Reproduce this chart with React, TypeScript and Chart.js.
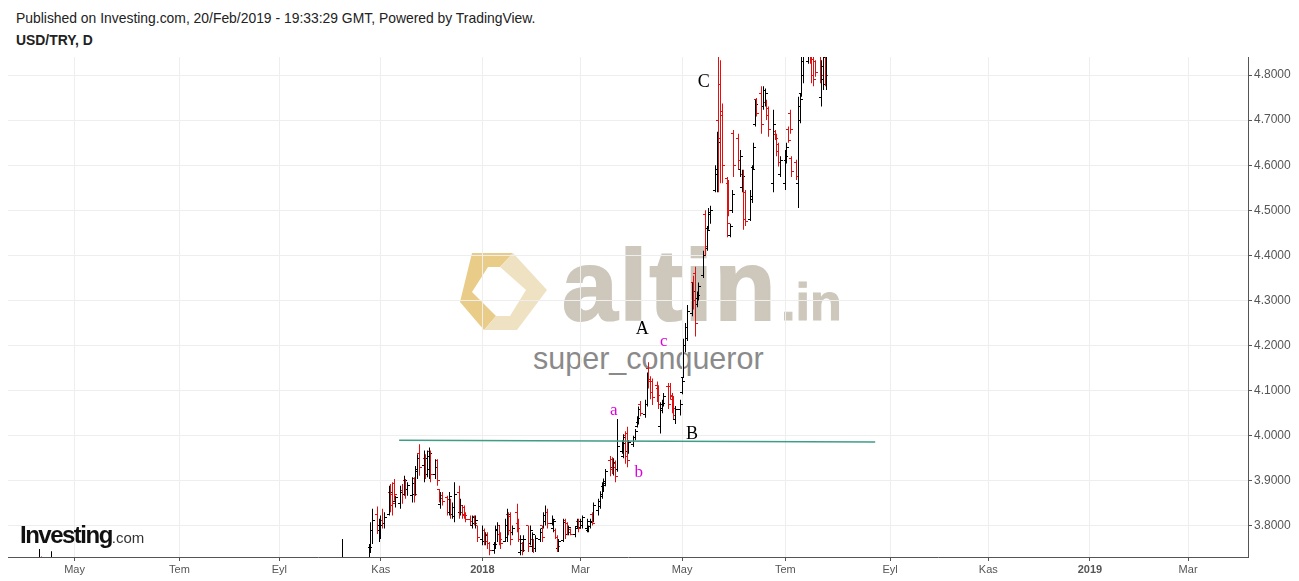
import React, { useEffect, useRef } from 'react';
import { Chart, registerables } from 'chart.js';

Chart.register(...registerables);

type Bar = [number, number, number, number]; // open, high, low, close

// ---- Price data (USD/TRY daily) ----
const segAprStart = '2017-04-03';
const segApr: Bar[] = [
  [3.645, 3.680, 3.640, 3.670], [3.670, 3.690, 3.660, 3.680], [3.680, 3.700, 3.665, 3.690],
  [3.690, 3.715, 3.680, 3.710], [3.710, 3.728, 3.695, 3.722],
  [3.722, 3.749, 3.712, 3.730], [3.730, 3.732, 3.705, 3.715], [3.715, 3.728, 3.700, 3.720],
  [3.720, 3.729, 3.700, 3.712], [3.712, 3.725, 3.705, 3.718],
  [3.640, 3.744, 3.620, 3.660], [3.660, 3.690, 3.640, 3.670], [3.670, 3.680, 3.640, 3.650],
  [3.650, 3.665, 3.620, 3.630], [3.630, 3.645, 3.610, 3.625],
];

const segMainStart = '2017-10-02';
const segMain: Bar[] = [
  [3.545, 3.580, 3.540, 3.570], [3.570, 3.590, 3.560, 3.585], [3.585, 3.610, 3.575, 3.600],
  [3.600, 3.640, 3.595, 3.630], [3.630, 3.660, 3.620, 3.650], [3.650, 3.771, 3.640, 3.700],
  [3.700, 3.725, 3.660, 3.680], [3.680, 3.690, 3.630, 3.640], [3.640, 3.650, 3.600, 3.610],
  [3.610, 3.640, 3.600, 3.630], [3.630, 3.650, 3.620, 3.640], [3.640, 3.670, 3.630, 3.660],
  [3.660, 3.690, 3.650, 3.680], [3.680, 3.710, 3.670, 3.700], [3.700, 3.720, 3.690, 3.705],
  [3.705, 3.728, 3.700, 3.720], [3.720, 3.730, 3.705, 3.722],
  // Oct 25 2017 ->
  [3.722, 3.760, 3.718, 3.752], [3.752, 3.808, 3.740, 3.790], [3.790, 3.838, 3.760, 3.812],
  [3.825, 3.843, 3.782, 3.800], [3.790, 3.816, 3.764, 3.800], [3.800, 3.823, 3.771, 3.812],
  [3.812, 3.838, 3.794, 3.806], [3.806, 3.830, 3.794, 3.818], [3.825, 3.889, 3.823, 3.875],
  [3.875, 3.893, 3.830, 3.845], [3.870, 3.897, 3.823, 3.850], [3.895, 3.904, 3.856, 3.870],
  [3.855, 3.867, 3.841, 3.862], [3.850, 3.889, 3.838, 3.875], [3.878, 3.893, 3.849, 3.870],
  [3.870, 3.911, 3.867, 3.900], [3.900, 3.904, 3.860, 3.880], [3.880, 3.897, 3.867, 3.890],
  [3.868, 3.908, 3.852, 3.895], [3.905, 3.908, 3.852, 3.870], [3.870, 3.933, 3.867, 3.925],
  [3.920, 3.959, 3.904, 3.950], [3.960, 3.981, 3.911, 3.930], [3.935, 3.967, 3.897, 3.950],
  [3.950, 3.959, 3.904, 3.915], [3.915, 3.967, 3.908, 3.955], [3.925, 3.974, 3.904, 3.960],
  [3.965, 3.967, 3.897, 3.915], [3.915, 3.948, 3.904, 3.930], [3.945, 3.948, 3.889, 3.900],
  [3.880, 3.882, 3.852, 3.860], [3.848, 3.875, 3.838, 3.868], [3.868, 3.875, 3.845, 3.855],
  [3.862, 3.867, 3.823, 3.830], [3.830, 3.875, 3.823, 3.865], [3.858, 3.860, 3.816, 3.825],
  [3.825, 3.852, 3.816, 3.840], [3.820, 3.897, 3.808, 3.870], [3.875, 3.889, 3.816, 3.830],
  [3.830, 3.860, 3.823, 3.845], [3.845, 3.845, 3.816, 3.825], [3.840, 3.845, 3.816, 3.822],
  [3.822, 3.830, 3.808, 3.815], [3.815, 3.823, 3.801, 3.810], [3.800, 3.823, 3.794, 3.818],
  [3.820, 3.823, 3.801, 3.805], [3.805, 3.823, 3.794, 3.812], [3.800, 3.801, 3.764, 3.775],
  [3.770, 3.801, 3.757, 3.790], [3.790, 3.794, 3.757, 3.765], [3.765, 3.786, 3.757, 3.778],
  [3.782, 3.786, 3.749, 3.760], [3.762, 3.764, 3.735, 3.745], [3.745, 3.764, 3.738, 3.758],
  [3.758, 3.801, 3.749, 3.792], [3.790, 3.808, 3.764, 3.800], [3.800, 3.801, 3.757, 3.770],
  [3.780, 3.786, 3.749, 3.760], [3.765, 3.816, 3.764, 3.800], [3.775, 3.838, 3.764, 3.825],
  [3.825, 3.830, 3.779, 3.790], [3.820, 3.830, 3.757, 3.770], [3.785, 3.801, 3.779, 3.795],
  [3.830, 3.849, 3.786, 3.795], [3.805, 3.816, 3.764, 3.770], [3.740, 3.779, 3.735, 3.770],
  [3.760, 3.764, 3.735, 3.745], [3.745, 3.779, 3.742, 3.770], [3.800, 3.801, 3.742, 3.755],
  [3.760, 3.801, 3.757, 3.790], [3.755, 3.786, 3.742, 3.780], [3.770, 3.771, 3.740, 3.750],
  [3.750, 3.779, 3.742, 3.772], [3.770, 3.794, 3.764, 3.785], [3.800, 3.801, 3.764, 3.775],
  [3.795, 3.830, 3.794, 3.822], [3.810, 3.845, 3.801, 3.830], [3.830, 3.838, 3.794, 3.805],
  [3.805, 3.823, 3.801, 3.815], [3.795, 3.816, 3.786, 3.810], [3.790, 3.794, 3.771, 3.775],
  [3.775, 3.779, 3.742, 3.755], [3.750, 3.771, 3.742, 3.765], [3.768, 3.816, 3.764, 3.808],
  [3.812, 3.816, 3.771, 3.782], [3.805, 3.808, 3.779, 3.785], [3.782, 3.801, 3.779, 3.796],
  [3.792, 3.794, 3.779, 3.782], [3.782, 3.800, 3.775, 3.795], [3.798, 3.816, 3.794, 3.810],
  [3.810, 3.816, 3.786, 3.795], [3.796, 3.816, 3.794, 3.810], [3.800, 3.823, 3.794, 3.818],
  [3.795, 3.816, 3.786, 3.810], [3.790, 3.801, 3.786, 3.798], [3.798, 3.816, 3.794, 3.808],
  [3.825, 3.830, 3.801, 3.806], [3.810, 3.852, 3.808, 3.845], [3.835, 3.860, 3.823, 3.855],
  // Mar 13 2018 ->
  [3.842, 3.877, 3.838, 3.870], [3.865, 3.897, 3.860, 3.890], [3.888, 3.905, 3.875, 3.898],
  [3.895, 3.926, 3.888, 3.920], [3.945, 3.955, 3.910, 3.925], [3.948, 3.952, 3.915, 3.930],
  [3.930, 3.950, 3.912, 3.940], [3.938, 3.945, 3.897, 3.910], [3.925, 4.037, 3.920, 3.975],
  [3.965, 3.990, 3.960, 3.982], [3.955, 4.003, 3.950, 3.995], [4.000, 4.010, 3.938, 3.955],
  [4.005, 4.020, 3.930, 3.945], [3.965, 3.990, 3.960, 3.985], [3.980, 4.000, 3.975, 3.995],
  [3.995, 4.015, 3.990, 4.010], [4.020, 4.043, 4.018, 4.038], [4.030, 4.065, 4.025, 4.058],
  [4.070, 4.077, 4.043, 4.050], [4.048, 4.080, 4.040, 4.070], [4.070, 4.140, 4.065, 4.125],
  [4.150, 4.163, 4.105, 4.120], [4.125, 4.132, 4.081, 4.095], [4.120, 4.127, 4.068, 4.085],
  [4.112, 4.120, 4.075, 4.090], [4.105, 4.112, 4.059, 4.070], [4.020, 4.074, 4.005, 4.060],
  [4.055, 4.080, 4.050, 4.072], [4.070, 4.095, 4.065, 4.088], [4.110, 4.117, 4.059, 4.070],
  [4.110, 4.117, 4.080, 4.088], [4.090, 4.095, 4.050, 4.060], [4.080, 4.088, 4.037, 4.045],
  [4.035, 4.066, 4.026, 4.058], [4.058, 4.080, 4.045, 4.070], [4.095, 4.130, 4.092, 4.120],
  [4.130, 4.215, 4.128, 4.200],
  // May 3 2018 ->
  [4.200, 4.250, 4.185, 4.240], [4.215, 4.290, 4.210, 4.275], [4.270, 4.340, 4.265, 4.320],
  [4.340, 4.355, 4.280, 4.300], [4.360, 4.375, 4.220, 4.250], [4.290, 4.320, 4.285, 4.312],
  [4.305, 4.340, 4.300, 4.330], [4.355, 4.410, 4.350, 4.400], [4.490, 4.500, 4.400, 4.420],
  [4.415, 4.465, 4.410, 4.455], [4.460, 4.505, 4.457, 4.495], [4.490, 4.510, 4.470, 4.500],
  [4.545, 4.600, 4.540, 4.590], [4.580, 4.674, 4.540, 4.650], [4.700, 4.924, 4.540, 4.660],
  [4.780, 4.833, 4.560, 4.710], [4.720, 4.737, 4.560, 4.600], [4.570, 4.574, 4.440, 4.470],
  [4.560, 4.567, 4.487, 4.500], [4.445, 4.470, 4.440, 4.465], [4.500, 4.545, 4.494, 4.535],
  [4.670, 4.678, 4.574, 4.600], [4.660, 4.670, 4.590, 4.610], [4.590, 4.634, 4.574, 4.620],
  [4.550, 4.590, 4.540, 4.575], [4.580, 4.590, 4.457, 4.480], [4.540, 4.545, 4.465, 4.475],
  [4.480, 4.545, 4.476, 4.530], [4.525, 4.600, 4.516, 4.590], [4.595, 4.650, 4.590, 4.640],
  [4.690, 4.745, 4.686, 4.735], [4.745, 4.749, 4.708, 4.715], [4.760, 4.775, 4.670, 4.690],
  [4.730, 4.775, 4.723, 4.765], [4.740, 4.770, 4.730, 4.760], [4.740, 4.745, 4.700, 4.710],
  [4.725, 4.730, 4.663, 4.680], [4.560, 4.723, 4.540, 4.690], [4.675, 4.678, 4.656, 4.660],
  [4.668, 4.670, 4.620, 4.630], [4.645, 4.650, 4.597, 4.605], [4.580, 4.620, 4.574, 4.610],
  [4.560, 4.634, 4.545, 4.620], [4.610, 4.650, 4.604, 4.640], [4.680, 4.686, 4.650, 4.655],
  [4.715, 4.723, 4.670, 4.680], [4.615, 4.620, 4.574, 4.585], [4.605, 4.612, 4.567, 4.575],
  [4.560, 4.752, 4.505, 4.730], [4.700, 4.760, 4.693, 4.745], [4.760, 4.850, 4.752, 4.830],
  [4.800, 4.870, 4.782, 4.850], [4.830, 4.880, 4.825, 4.860], [4.870, 4.890, 4.825, 4.835],
  [4.860, 4.880, 4.782, 4.800], [4.850, 4.870, 4.775, 4.790], [4.830, 4.833, 4.796, 4.805],
  [4.850, 4.870, 4.782, 4.800], [4.750, 4.833, 4.730, 4.820], [4.790, 4.860, 4.767, 4.840],
  [4.860, 4.880, 4.775, 4.800], [4.780, 4.880, 4.767, 4.850],
];

// ---- Axes ----
const xTickDates = [
  '2017-05-01', '2017-07-03', '2017-09-01', '2017-11-01', '2018-01-01', '2018-03-01',
  '2018-05-01', '2018-07-02', '2018-09-03', '2018-11-01', '2019-01-01', '2019-03-01',
];
const xTickLabels = ['May', 'Tem', 'Eyl', 'Kas', '2018', 'Mar', 'May', 'Tem', 'Eyl', 'Kas', '2019', 'Mar'];
const yearLabels = ['2018', '2019'];
const yTickValues = [3.8, 3.9, 4.0, 4.1, 4.2, 4.3, 4.4, 4.5, 4.6, 4.7, 4.8];
const xRange = ['2017-03-22', '2019-04-06'];
const yRange = [3.731, 4.84];

// ---- Drawings on the chart ----
const trendLine = [
  { date: '2017-11-12', price: 3.99 },
  { date: '2018-08-25', price: 3.986 },
];
const waveLabels = [
  { text: 'A', date: '2018-04-07', price: 4.237 },
  { text: 'B', date: '2018-05-07', price: 4.004 },
  { text: 'C', date: '2018-05-14', price: 4.784 },
  { text: 'a', date: '2018-03-21', price: 4.055 },
  { text: 'b', date: '2018-04-05', price: 3.918 },
  { text: 'c', date: '2018-04-20', price: 4.21 },
];

const EPOCH = Date.UTC(2018, 0, 1);
const DAY = 86400000;
function dayOf(s: string): number {
  const [y, m, d] = s.split('-').map(Number);
  return (Date.UTC(y, m - 1, d) - EPOCH) / DAY;
}
function weekdays(start: string, n: number): number[] {
  const out: number[] = [];
  let t = dayOf(start);
  while (out.length < n) {
    const wd = new Date(EPOCH + t * DAY).getUTCDay();
    if (wd !== 0 && wd !== 6) out.push(t);
    t++;
  }
  return out;
}

const UP = '#000000';
const DOWN = '#dd1111';
const SANS = '"Liberation Sans", Arial, sans-serif';

function tickImage(color: string, side: 'open' | 'close'): HTMLCanvasElement {
  const c = document.createElement('canvas');
  c.width = 5;
  c.height = 1;
  const g = c.getContext('2d')!;
  g.fillStyle = color;
  g.fillRect(side === 'open' ? 0 : 3, 0, 2, 1);
  return c;
}

export default function App() {
  const ref = useRef<HTMLCanvasElement>(null);

  useEffect(() => {
    if (!ref.current) return;
    const bars: { x: number; o: number; h: number; l: number; c: number }[] = [];
    const addSeg = (start: string, seg: Bar[]) => {
      const days = weekdays(start, seg.length);
      seg.forEach((b, i) => bars.push({ x: days[i], o: b[0], h: b[1], l: b[2], c: b[3] }));
    };
    addSeg(segAprStart, segApr);
    addSeg(segMainStart, segMain);

    const isUp = bars.map((b) => b.c >= b.o);
    const openUp = tickImage(UP, 'open');
    const openDown = tickImage(DOWN, 'open');
    const closeUp = tickImage(UP, 'close');
    const closeDown = tickImage(DOWN, 'close');

    // align the 1px OHLC strokes to whole device pixels so they stay crisp
    const snapPlugin = {
      id: 'snapOhlc',
      beforeDatasetsDraw(chart: any) {
        chart.getSortedVisibleDatasetMetas().forEach((meta: any) => {
          if (meta.type === 'bar') {
            meta.data.forEach((el: any) => {
              el.x = Math.floor(el.x) + 0.5;
            });
          } else if (meta.type === 'scatter') {
            meta.data.forEach((el: any) => {
              el.x = Math.floor(el.x) + 0.5;
              el.y = Math.floor(el.y) + 0.5;
            });
          }
        });
      },
    };

    const labelPlugin = {
      id: 'waveLabels',
      afterDatasetsDraw(chart: any) {
        const { ctx, scales } = chart;
        ctx.save();
        ctx.textAlign = 'center';
        ctx.textBaseline = 'middle';
        for (const l of waveLabels) {
          const upper = l.text === l.text.toUpperCase();
          ctx.font = `${upper ? 18 : 17}px "Liberation Serif", "Times New Roman", serif`;
          ctx.fillStyle = upper ? '#000000' : '#dd00dd';
          ctx.fillText(l.text, scales.x.getPixelForValue(dayOf(l.date)), scales.y.getPixelForValue(l.price));
        }
        ctx.restore();
      },
    };

    const xTickDays = xTickDates.map(dayOf);

    const chart = new Chart(ref.current, {
      type: 'bar',
      data: {
        datasets: [
          {
            type: 'line',
            data: trendLine.map((p) => ({ x: dayOf(p.date), y: p.price })),
            borderColor: '#3f9c86',
            borderWidth: 1.5,
            pointRadius: 0,
            order: 0,
          } as any,
          {
            type: 'bar',
            data: bars.map((b) => ({ x: b.x, y: [b.l, b.h] })),
            backgroundColor: isUp.map((u) => (u ? UP : DOWN)),
            barThickness: 1,
            borderWidth: 0,
            inflateAmount: 0,
            order: 1,
          } as any,
          {
            type: 'scatter',
            data: bars.map((b) => ({ x: b.x, y: b.o })),
            pointStyle: isUp.map((u) => (u ? openUp : openDown)),
            pointRadius: 1,
            order: 1,
          } as any,
          {
            type: 'scatter',
            data: bars.map((b) => ({ x: b.x, y: b.c })),
            pointStyle: isUp.map((u) => (u ? closeUp : closeDown)),
            pointRadius: 1,
            order: 1,
          } as any,
        ],
      },
      options: {
        animation: false,
        responsive: false,
        devicePixelRatio: 1,
        events: [],
        layout: { padding: { left: 8, top: 57, right: 0, bottom: 0 } },
        plugins: { legend: { display: false }, tooltip: { enabled: false } },
        scales: {
          x: {
            type: 'linear',
            min: dayOf(xRange[0]),
            max: dayOf(xRange[1]),
            offset: false,
            grid: { color: '#eeeeee', tickColor: '#555555', tickLength: 4, offset: false },
            border: { display: true, color: '#555555', width: 1 },
            ticks: {
              autoSkip: false,
              maxRotation: 0,
              padding: 2,
              color: '#555555',
              font: (ctx: any) => ({
                family: SANS,
                size: 11,
                weight: ctx.tick && yearLabels.includes(ctx.tick.label) ? 'bold' : 'normal',
              }),
              callback: (_v: any, i: number) => xTickLabels[i],
            },
            afterBuildTicks: (s: any) => {
              s.ticks = xTickDays.map((v) => ({ value: v }));
            },
            afterFit: (s: any) => {
              s.height = 24;
            },
          },
          y: {
            type: 'linear',
            position: 'right',
            min: yRange[0],
            max: yRange[1],
            grid: { color: '#eeeeee', tickColor: '#555555', tickLength: 4 },
            border: { display: true, color: '#555555', width: 1 },
            ticks: {
              padding: 2,
              color: '#555555',
              font: { family: SANS, size: 12 },
              callback: (v: any) => Number(v).toFixed(4),
            },
            afterBuildTicks: (s: any) => {
              s.ticks = yTickValues.map((v) => ({ value: v }));
            },
            afterFit: (s: any) => {
              s.width = 51;
            },
          },
        },
      } as any,
      plugins: [snapPlugin, labelPlugin],
    });
    return () => chart.destroy();
  }, []);

  return (
    <div
      style={{
        position: 'fixed',
        left: 0,
        top: 0,
        width: 1299,
        height: 581,
        background: '#ffffff',
        overflow: 'hidden',
        fontFamily: SANS,
      }}
    >
      <div style={{ position: 'absolute', left: 16, top: 12, fontSize: 13.9, lineHeight: '13px', color: '#222', whiteSpace: 'nowrap' }}>
        Published on Investing.com, 20/Feb/2019 - 19:33:29 GMT, Powered by TradingView.
      </div>
      <div style={{ position: 'absolute', left: 16, top: 34, fontSize: 13.9, lineHeight: '13px', color: '#222', fontWeight: 'bold', whiteSpace: 'nowrap' }}>
        USD/TRY, D
      </div>

      <svg style={{ position: 'absolute', left: 458, top: 252 }} width={92} height={80}>
        <polygon points="14,1 55,1 42,15 30,15 14,40 38,64 26,78 2,50" fill="#e8cc88" />
        <polygon points="55,1 89,38 59,78 26,78 38,64 52,64 68,38 42,15" fill="#efe2c3" />
        <polygon points="47,34 57,44 47,54 37,44" fill="#ffffff" />
      </svg>
      <div
        style={{
          position: 'absolute', left: 562, top: 235, fontSize: 100, lineHeight: '100px', fontWeight: 'bold',
          color: '#cdc7bc', letterSpacing: '2px', WebkitTextStroke: '2px #cdc7bc', whiteSpace: 'nowrap',
        }}
      >
        altin
      </div>
      <div
        style={{
          position: 'absolute', left: 781, top: 276, fontSize: 52, lineHeight: '52px', fontWeight: 'bold',
          color: '#cdc7bc', WebkitTextStroke: '1px #cdc7bc', whiteSpace: 'nowrap',
        }}
      >
        .in
      </div>
      <div style={{ position: 'absolute', left: 533, top: 343, fontSize: 30.5, lineHeight: '30px', color: '#8a8a8a', whiteSpace: 'nowrap' }}>
        super_conqueror
      </div>

      <canvas ref={ref} width={1299} height={581} style={{ position: 'absolute', left: 0, top: 0 }} />

      <div style={{ position: 'absolute', left: 20, top: 522, lineHeight: '25px', whiteSpace: 'nowrap' }}>
        <span style={{ fontSize: 24, fontWeight: 'bold', color: '#111', letterSpacing: '-1.5px' }}>Investing</span>
        <span style={{ fontSize: 15, color: '#333' }}>.com</span>
      </div>
    </div>
  );
}
